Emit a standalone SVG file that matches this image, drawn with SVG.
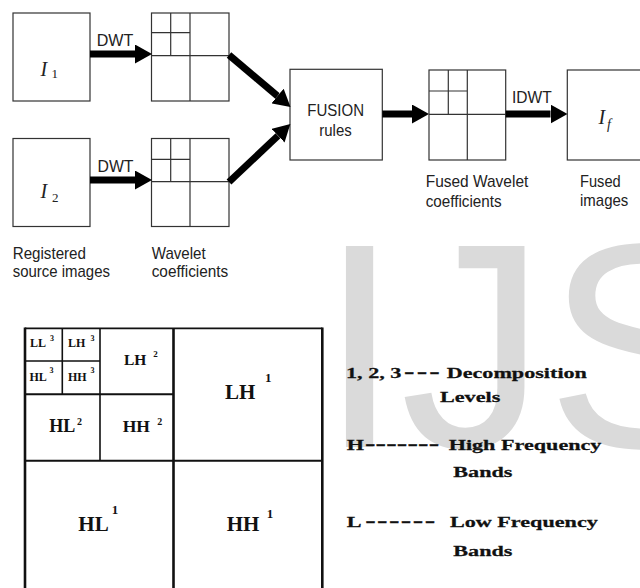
<svg xmlns="http://www.w3.org/2000/svg" width="640" height="588" viewBox="0 0 640 588">
<style>
.box{fill:#fff;stroke:#333;stroke-width:1.2}
.ln{stroke:#333;stroke-width:1.2;fill:none}
.lbl{font-family:"Liberation Sans",Arial,sans-serif;font-size:17px;fill:#222}
.math{font-family:"Liberation Serif","Times New Roman",serif;font-style:italic;fill:#222}
.sub{font-family:"Liberation Serif","Times New Roman",serif;fill:#222}
.arr{stroke:#000;stroke-width:7;fill:none;marker-end:url(#head)}
.g{stroke:#111;fill:none}
.band{font-family:"Liberation Serif","Times New Roman",serif;font-weight:bold;fill:#111}
.leg{font-family:"Liberation Serif","Times New Roman",serif;font-weight:bold;font-size:15.5px;fill:#111;stroke:#111;stroke-width:0.25}
.dash{font-size:22px}
.wm{font-family:"Liberation Sans",Arial,sans-serif;font-size:292px;fill:#dadada}
</style>
<defs>
<marker id="head" markerUnits="userSpaceOnUse" viewBox="0 0 17 19" markerWidth="17" markerHeight="19" refX="0" refY="9.5" orient="auto">
<path d="M0,0 L17,9.5 L0,19 z" fill="#000"/>
</marker>
</defs>
<rect width="640" height="588" fill="#fff"/>
<text class="wm" x="319" y="447">IJS</text>

<g id="img1"><rect class="box" x="13" y="13" width="77" height="88"/>
<text class="math" x="40.5" y="75.5" font-size="20">I</text><text class="sub" x="51.5" y="77.5" font-size="13">1</text></g>
<g id="img2"><rect class="box" x="13" y="138.5" width="77" height="88"/>
<text class="math" x="40.5" y="198" font-size="20">I</text><text class="sub" x="52" y="201.5" font-size="13">2</text></g>

<g id="wav1"><rect class="box" x="151.5" y="13" width="77.5" height="88"/>
<path class="ln" d="M190,13 V101 M151.5,55.7 H229 M170.7,13 V55.7 M151.5,32.7 H190"/></g>
<g id="wav2"><rect class="box" x="151.5" y="138.5" width="77.5" height="88"/>
<path class="ln" d="M190,138.5 V226.5 M151.5,181.7 H229 M170.7,138.5 V181.7 M151.5,159.3 H190"/></g>

<g id="fusion"><rect class="box" x="290" y="69.3" width="92.3" height="90.7"/>
<text class="lbl" x="307.3" y="115.7" textLength="56.7" lengthAdjust="spacingAndGlyphs">FUSION</text>
<text class="lbl" x="319.3" y="136" textLength="32.4" lengthAdjust="spacingAndGlyphs">rules</text></g>

<g id="fusedwav"><rect class="box" x="429" y="70" width="76.7" height="90"/>
<path class="ln" d="M429,114.3 H505.7 M467.3,70 V160 M448.3,70 V114.3 M429,91 H467.3"/></g>

<g id="fusedimg"><rect class="box" x="567.3" y="70" width="100" height="90"/>
<text class="math" x="598.5" y="123.5" font-size="20">I</text><text class="math" x="607" y="128.5" font-size="14">f</text></g>

<g id="connectors">
<path class="arr" d="M90,54 L135,54"/>
<path class="arr" d="M90,180 L135,180"/>
<path class="arr" d="M229,55 L277.5,96"/>
<path class="arr" d="M229,182 L278,135.7"/>
<path class="arr" d="M382.3,114 L412,114"/>
<path class="arr" d="M505.7,114 L550.5,114"/>
<text class="lbl" x="96.7" y="46" textLength="36.6" lengthAdjust="spacingAndGlyphs">DWT</text>
<text class="lbl" x="97.5" y="172.3" textLength="36" lengthAdjust="spacingAndGlyphs">DWT</text>
<text class="lbl" x="512" y="102.7" textLength="39.7" lengthAdjust="spacingAndGlyphs">IDWT</text>
</g>

<g id="captions">
<text class="lbl" x="12.7" y="258.5" textLength="73.3" lengthAdjust="spacingAndGlyphs">Registered</text>
<text class="lbl" x="12.7" y="277.3" textLength="97.3" lengthAdjust="spacingAndGlyphs">source images</text>
<text class="lbl" x="151.7" y="258.5" textLength="54" lengthAdjust="spacingAndGlyphs">Wavelet</text>
<text class="lbl" x="151.7" y="277.3" textLength="76.6" lengthAdjust="spacingAndGlyphs">coefficients</text>
<text class="lbl" x="425.7" y="187.3" textLength="102.6" lengthAdjust="spacingAndGlyphs">Fused Wavelet</text>
<text class="lbl" x="425.7" y="207.3" textLength="76" lengthAdjust="spacingAndGlyphs">coefficients</text>
<text class="lbl" x="580" y="187.3" textLength="40.7" lengthAdjust="spacingAndGlyphs">Fused</text>
<text class="lbl" x="580" y="206" textLength="48.3" lengthAdjust="spacingAndGlyphs">images</text>
</g>

<g id="decomposition">
<path class="g" stroke-width="1.7" d="M25,328.3 H322.3"/>
<path class="g" stroke-width="2.6" d="M25,327.5 V600 M322.3,327.5 V600 M173.5,328 V600"/>
<path class="g" stroke-width="2" d="M25,460.7 H322.3 M25,394.3 H173.5"/>
<path class="g" stroke-width="1.6" d="M100,328 V460.7 M62.3,328 V394.3 M25,361 H100"/>
<text class="band" font-size="12" x="30" y="347">LL<tspan x="50" y="341" font-size="8">3</tspan></text>
<text class="band" font-size="12" x="68" y="347">LH<tspan x="90.5" y="341" font-size="8">3</tspan></text>
<text class="band" font-size="12" x="29.5" y="381">HL<tspan x="49.5" y="373" font-size="8">3</tspan></text>
<text class="band" font-size="12" x="68" y="381">HH<tspan x="90.5" y="373" font-size="8">3</tspan></text>
<text class="band" font-size="15.5" x="124" y="365">LH<tspan x="153.3" y="357" font-size="9">2</tspan></text>
<text class="band" font-size="18" x="49.3" y="431.7">HL<tspan x="77" y="425" font-size="10">2</tspan></text>
<text class="band" font-size="17.5" x="122.7" y="431.7">HH<tspan x="157.3" y="424.5" font-size="10">2</tspan></text>
<text class="band" font-size="21" x="225" y="399">LH<tspan x="265" y="382" font-size="13">1</tspan></text>
<text class="band" font-size="21" x="78.3" y="530.7">HL<tspan x="111.7" y="513.5" font-size="13">1</tspan></text>
<text class="band" font-size="21" x="226.7" y="530.7">HH<tspan x="266.7" y="518" font-size="13">1</tspan></text>
</g>

<g id="legend">
<text class="leg" transform="translate(346,378.3) scale(1.43,1)"><tspan x="0">1, 2, 3</tspan><tspan class="dash" x="40.6" letter-spacing="1.5">---</tspan><tspan x="70.4">Decomposition</tspan></text>
<text class="leg" transform="translate(440,401.7) scale(1.43,1)">Levels</text>
<text class="leg" transform="translate(346.7,450) scale(1.43,1)"><tspan x="0">H</tspan><tspan class="dash" x="12.8" letter-spacing="0.1">-------</tspan><tspan x="71.3">High Frequency</tspan></text>
<text class="leg" transform="translate(453.3,476.7) scale(1.43,1)">Bands</text>
<text class="leg" transform="translate(346.7,526.7) scale(1.43,1)"><tspan x="0">L</tspan><tspan class="dash" x="12.9" letter-spacing="1">------</tspan><tspan x="72.2">Low Frequency</tspan></text>
<text class="leg" transform="translate(453.3,556) scale(1.43,1)">Bands</text>
</g>
</svg>
